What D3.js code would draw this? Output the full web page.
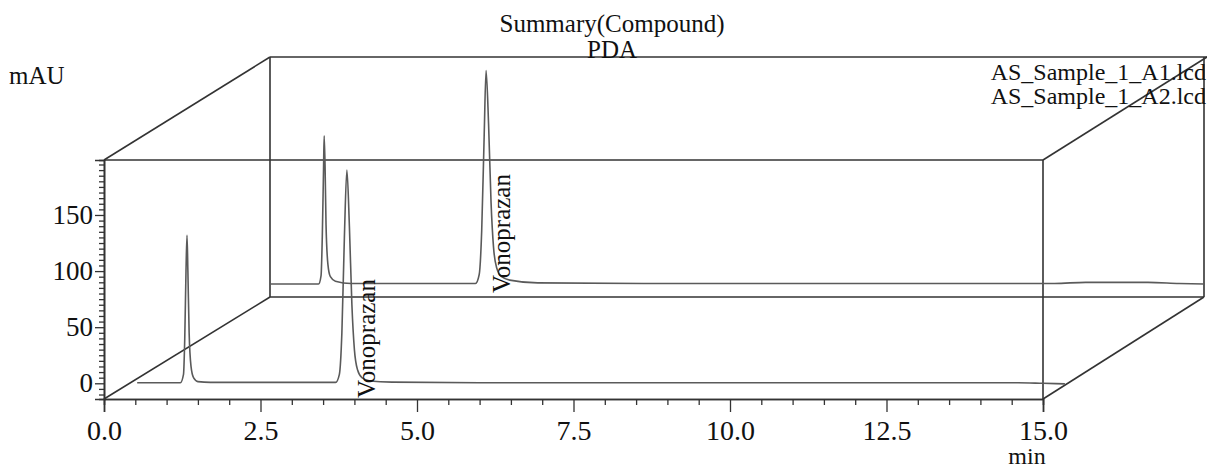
<!DOCTYPE html>
<html>
<head>
<meta charset="utf-8">
<script src="https://cdn.jsdelivr.net/npm/d3@7"></script>
<style>
  body { margin: 0; background: #fff; }
  svg text { font-family: "Liberation Serif", "Times New Roman", serif; fill: #111; }
</style>
</head>
<body>
<svg id="chart" width="1207" height="468"></svg>
<script>
// chromatogram values: [time (min), signal (mAU)]
// front trace (lower, plotted in the front plane)
const traceFront = [
  [0.53, 0.5], [1.22, 0.5], [1.27, 8], [1.29, 40], [1.31, 100], [1.326, 132],
  [1.34, 100], [1.36, 45], [1.39, 15], [1.43, 5], [1.5, 1.5], [1.7, 0.8],
  [3.70, 0.8], [3.76, 8], [3.80, 45], [3.84, 130], [3.88, 190], [3.92, 140],
  [3.96, 70], [4.00, 30], [4.05, 12], [4.12, 5], [4.25, 2], [4.6, 1],
  [6.0, 0.5], [14.6, 0.5], [15.0, 0.0], [15.35, -0.5]
];
// back trace (upper, plotted in the back plane)
const traceBack = [
  [0.0, -2.5], [0.78, -2.5], [0.82, 5], [0.84, 40], [0.86, 100], [0.87, 129],
  [0.885, 100], [0.90, 50], [0.93, 15], [0.97, 4], [1.05, 0], [1.3, -2],
  [3.30, -2], [3.36, 6], [3.40, 45], [3.44, 130], [3.47, 187], [3.51, 140],
  [3.55, 70], [3.59, 30], [3.64, 12], [3.72, 4], [3.85, 1], [4.3, -1.5],
  [6.0, -2], [12.6, -2], [13.1, -1], [14.1, -1], [14.6, -2], [15.0, -2.5]
];
const peakLabels = ["Vonoprazan", "Vonoprazan"];
const labelTimes = [3.88, 3.47];
const legendNames = ["AS_Sample_1_A1.lcd", "AS_Sample_1_A2.lcd"];
const titleLines = ["Summary(Compound)", "PDA"];
const xMajor = [0, 2.5, 5, 7.5, 10, 12.5, 15];
const yMajor = [0, 50, 100, 150];
const xDomain = [0, 15];
const yDomain = [-14, 199];

const svg = d3.select("#chart");
const boxColor = "#333";
const traceColor = "#5a5a5a";

// front plane scales
const xF = d3.scaleLinear().domain(xDomain).range([104, 1043]);
const yF = d3.scaleLinear().domain(yDomain).range([399, 160]);
// back plane scales (depth offset)
const xB = d3.scaleLinear().domain(xDomain).range([270, 1204]);
const yB = d3.scaleLinear().domain(yDomain).range([297, 57]);

// minor ticks
const xMinor = d3.range(0, 15.01, 0.5).filter(v => !xMajor.includes(v));
const yMinor = d3.range(-10, 199, 5).filter(v => !yMajor.includes(v));

// box outline
const box = svg.append("g")
  .attr("fill", "none")
  .attr("stroke", boxColor)
  .attr("stroke-width", 1.6);

const x0 = xDomain[0], x1 = xDomain[1], y0 = yDomain[0], y1 = yDomain[1];
const segs = [
  // back plane
  [[xB(x0), yB(y1)], [1207, yB(y1)]],
  [[xB(x0), yB(y1)], [xB(x0), yB(y0)]],
  [[xB(x0), yB(y0)], [xB(x1), yB(y0)]],
  [[xB(x1), yB(y1)], [xB(x1), yB(y0)]],
  // front plane top + right
  [[xF(x0), yF(y1)], [xF(x1), yF(y1)]],
  [[xF(x1), yF(y1)], [xF(x1), yF(y0)]],
  // depth edges
  [[xF(x0), yF(y1)], [xB(x0), yB(y1)]],
  [[xF(x0), yF(y0)], [xB(x0), yB(y0)]],
  [[xF(x1), yF(y1)], [1207, yB(y1)]],
  [[xF(x1), yF(y0)], [xB(x1), yB(y0)]]
];
box.selectAll("line").data(segs).join("line")
  .attr("x1", d => d[0][0]).attr("y1", d => d[0][1])
  .attr("x2", d => d[1][0]).attr("y2", d => d[1][1]);

// axes
function styleAxis(g) {
  g.attr("font-size", null).attr("font-family", null);
  g.selectAll("path.domain").attr("stroke", boxColor).attr("stroke-width", 1.6);
  g.selectAll(".tick line").attr("stroke", boxColor).attr("stroke-width", 1.3);
  g.selectAll(".tick text").style("font-size", "28px").attr("fill", "#111");
}

svg.append("g")
  .attr("transform", `translate(0,${yF(y0)})`)
  .call(d3.axisBottom(xF).tickValues(xMinor).tickSize(6).tickFormat(""))
  .call(styleAxis);
svg.append("g")
  .attr("transform", `translate(0,${yF(y0)})`)
  .call(d3.axisBottom(xF).tickValues(xMajor).tickSize(13).tickPadding(8)
    .tickFormat(d3.format(".1f")))
  .call(styleAxis)
  .call(g => g.selectAll(".tick text").attr("dy", "0.71em"));

svg.append("g")
  .attr("transform", `translate(${xF(x0)},0)`)
  .call(d3.axisLeft(yF).tickValues(yMinor).tickSize(5).tickFormat(""))
  .call(styleAxis);
svg.append("g")
  .attr("transform", `translate(${xF(x0)},0)`)
  .call(d3.axisLeft(yF).tickValues(yMajor).tickSize(9).tickPadding(2))
  .call(styleAxis)
  .call(g => g.selectAll(".tick text").style("font-size", "27px"));

// traces
const lineF = d3.line().x(d => xF(d[0])).y(d => yF(d[1])).curve(d3.curveMonotoneX);
const lineB = d3.line().x(d => xB(d[0])).y(d => yB(d[1])).curve(d3.curveMonotoneX);

svg.append("path").datum(traceBack)
  .attr("d", lineB).attr("fill", "none")
  .attr("stroke", traceColor).attr("stroke-width", 1.6);
svg.append("path").datum(traceFront)
  .attr("d", lineF).attr("fill", "none")
  .attr("stroke", traceColor).attr("stroke-width", 1.6);

// peak labels, rotated
svg.append("text")
  .attr("transform", `translate(${xF(labelTimes[0]) + 28},${yF(y0) - 1}) rotate(-90)`)
  .attr("font-size", 25).text(peakLabels[0]);
svg.append("text")
  .attr("transform", `translate(${xB(labelTimes[1]) + 24},${yB(y0) - 4}) rotate(-90)`)
  .attr("font-size", 25).text(peakLabels[1]);

// titles
svg.selectAll("text.title").data(titleLines).join("text")
  .attr("class", "title")
  .attr("x", 612).attr("y", (d, i) => 32 + i * 26)
  .attr("text-anchor", "middle").attr("font-size", 25)
  .text(d => d);

// legend
svg.selectAll("text.legend").data(legendNames).join("text")
  .attr("class", "legend")
  .attr("x", 1206).attr("y", (d, i) => 80 + i * 24)
  .attr("text-anchor", "end").attr("font-size", 24)
  .text(d => d);

// unit labels
svg.append("text").attr("x", 9).attr("y", 84).attr("font-size", 25).text("mAU");
svg.append("text").attr("x", 1027).attr("y", 464).attr("text-anchor", "middle")
  .attr("font-size", 24).text("min");
</script>
</body>
</html>
